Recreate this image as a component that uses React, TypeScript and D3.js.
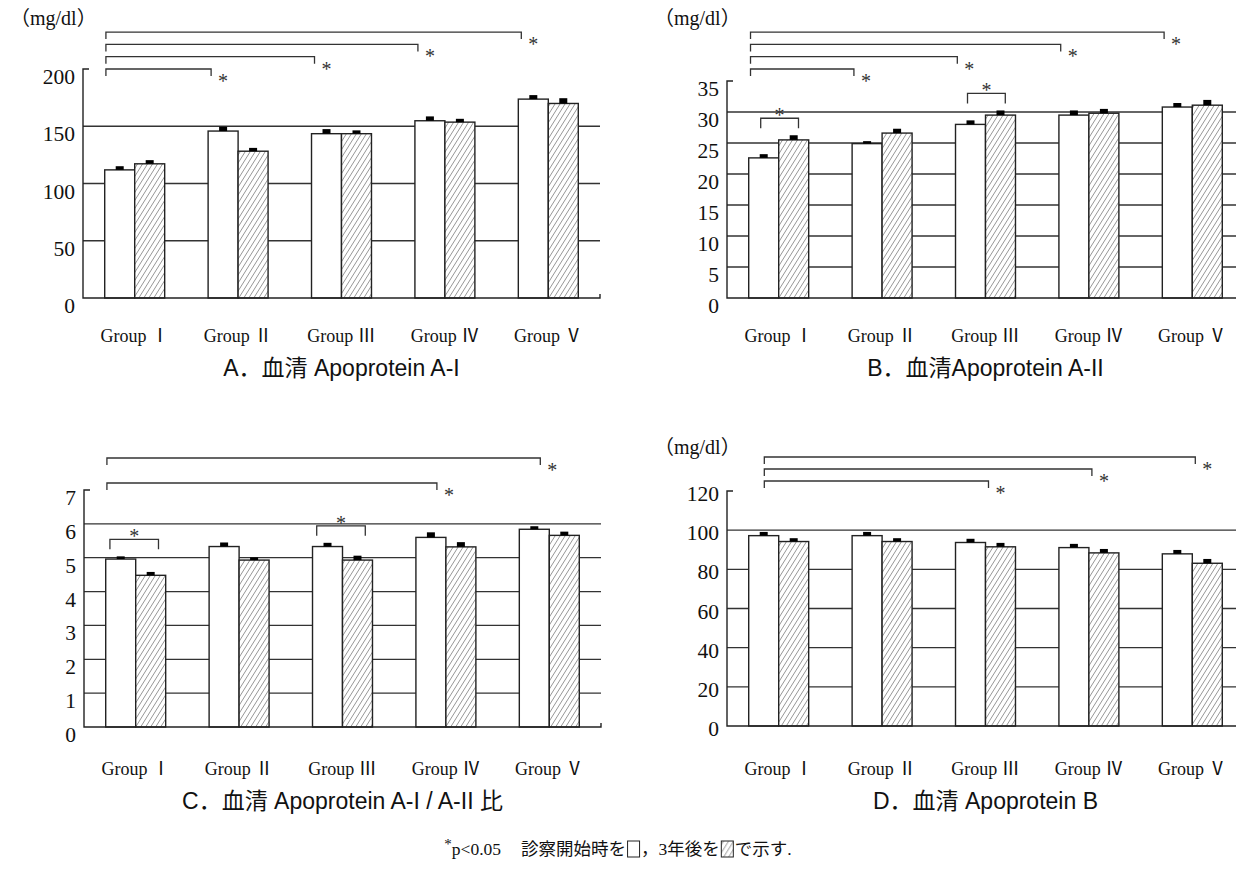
import React, { useEffect, useRef } from 'react'
import * as d3 from 'd3'

const groups = ['Group Ⅰ', 'Group Ⅱ', 'Group Ⅲ', 'Group Ⅳ', 'Group Ⅴ']
const periods = ['start', 'after']

// A. 血清 Apoprotein A-I (mg/dl)
const apoA1Start = [111.9, 145.8, 143.5, 154.8, 173.7]
const apoA1After = [117.2, 128.2, 143.5, 153.6, 169.9]
const apoA1StartSE = [3.2, 3.8, 4, 3.8, 3.5]
const apoA1AfterSE = [3.2, 2.9, 2.9, 2.9, 4.6]
const apoA1Ticks = [0, 50, 100, 150, 200]
const apoA1Sig = [[0, 1], [0, 2], [0, 3], [0, 4]]
const apoA1SigIn: number[] = []

// B. 血清 Apoprotein A-II (mg/dl)
const apoA2Start = [22.6, 24.9, 28.0, 29.5, 30.8]
const apoA2After = [25.5, 26.6, 29.5, 29.8, 31.1]
const apoA2StartSE = [0.6, 0.4, 0.65, 0.75, 0.65]
const apoA2AfterSE = [0.75, 0.7, 0.75, 0.7, 0.85]
const apoA2Ticks = [0, 5, 10, 15, 20, 25, 30, 35]
const apoA2Sig = [[0, 1], [0, 2], [0, 3], [0, 4]]
const apoA2SigIn = [0, 2]

// C. A-I / A-II 比
const ratioStart = [4.96, 5.33, 5.33, 5.6, 5.84]
const ratioAfter = [4.48, 4.93, 4.93, 5.32, 5.66]
const ratioStartSE = [0.08, 0.12, 0.11, 0.15, 0.09]
const ratioAfterSE = [0.1, 0.08, 0.13, 0.14, 0.11]
const ratioTicks = [0, 1, 2, 3, 4, 5, 6, 7]
const ratioSig = [[0, 3], [0, 4]]
const ratioSigIn = [0, 2]

// D. 血清 Apoprotein B (mg/dl)
const apoBStart = [97.2, 97.2, 93.7, 91.1, 87.9]
const apoBAfter = [94.2, 94.2, 91.5, 88.4, 83.1]
const apoBStartSE = [1.9, 1.9, 1.9, 1.9, 2]
const apoBAfterSE = [1.7, 1.7, 2, 2, 2.2]
const apoBTicks = [0, 20, 40, 60, 80, 100, 120]
const apoBSig = [[0, 2], [0, 3], [0, 4]]
const apoBSigIn: number[] = []

const panels = [
  { title: 'A．血清 Apoprotein A-I', unit: true, start: apoA1Start, after: apoA1After, startSE: apoA1StartSE, afterSE: apoA1AfterSE,
    ticks: apoA1Ticks, sig: apoA1Sig, sigIn: apoA1SigIn,
    left: 83, right: 600, bottom: 298, top: 69, tickDy: 15, unitY: 18, labelY: 342, titleY: 376,
    brBase: 0, brGap: 12.3, brStart: 0.02, brEnd: 0.05, inStart: 0.2, inEnd: 0.83 },
  { title: 'B．血清Apoprotein A-II', unit: true, start: apoA2Start, after: apoA2After, startSE: apoA2StartSE, afterSE: apoA2AfterSE,
    ticks: apoA2Ticks, sig: apoA2Sig, sigIn: apoA2SigIn,
    left: 727, right: 1244, bottom: 298, top: 81, tickDy: 15, unitY: 18, labelY: 342, titleY: 376,
    brBase: 12, brGap: 12.3, brStart: 0.03, brEnd: 0.03, inStart: 0.2, inEnd: 0.83 },
  { title: 'C．血清 Apoprotein A-I / A-II 比', unit: false, start: ratioStart, after: ratioAfter, startSE: ratioStartSE, afterSE: ratioAfterSE,
    ticks: ratioTicks, sig: ratioSig, sigIn: ratioSigIn,
    left: 84, right: 601, bottom: 727, top: 490, tickDy: 15, unitY: 0, labelY: 775, titleY: 809,
    brBase: 7, brGap: 25, brStart: 0.02, brEnd: 0.35, inStart: 0.07, inEnd: 0.88 },
  { title: 'D．血清 Apoprotein B', unit: true, start: apoBStart, after: apoBAfter, startSE: apoBStartSE, afterSE: apoBAfterSE,
    ticks: apoBTicks, sig: apoBSig, sigIn: apoBSigIn,
    left: 727, right: 1244, bottom: 726, top: 491, tickDy: 10, unitY: 447, labelY: 775, titleY: 809,
    brBase: 10, brGap: 12, brStart: 0.26, brEnd: 0.55, inStart: 0.2, inEnd: 0.83 },
]

const serif = '"Liberation Serif", "Noto Sans CJK JP", serif'
const sans = '"Liberation Sans", "Noto Sans CJK JP", sans-serif'
const ink = '#222'

const App = () => {
  const svgRef = useRef(null)

  useEffect(() => {
    document.body.style.margin = '0'
    const svg = d3.select(svgRef.current)
    svg.selectAll('*').remove()

    const pat = svg.append('defs').append('pattern')
      .attr('id', 'hatch').attr('patternUnits', 'userSpaceOnUse')
      .attr('width', 5).attr('height', 8)
    pat.append('rect').attr('width', 5).attr('height', 8).attr('fill', '#fff')
    pat.append('path').attr('d', 'M-5,8 L0,0 M0,8 L5,0 M5,8 L10,0')
      .attr('stroke', '#8a8a8a').attr('stroke-width', 0.9)

    panels.forEach(p => {
      const g = svg.append('g')
      const x0 = d3.scaleBand().domain(groups).range([p.left, p.right]).paddingInner(0.42).paddingOuter(0.21)
      const bw = x0.bandwidth()
      const x1 = d3.scaleBand().domain(periods).range([0, bw])
      const yMax = p.ticks[p.ticks.length - 1]
      const y = d3.scaleLinear().domain([0, yMax]).range([p.bottom, p.top])

      // gridlines
      g.selectAll('line.grid').data(p.ticks.slice(1, -1)).join('line')
        .attr('x1', p.left).attr('x2', p.right)
        .attr('y1', d => y(d)).attr('y2', d => y(d))
        .attr('stroke', '#333').attr('stroke-width', 1.3)

      const rows = groups.flatMap((name, i) => [
        { g: name, period: 'start', v: p.start[i], se: p.startSE[i] },
        { g: name, period: 'after', v: p.after[i], se: p.afterSE[i] },
      ])

      // bars
      g.selectAll('rect.bar').data(rows).join('rect')
        .attr('x', d => x0(d.g) + x1(d.period))
        .attr('y', d => y(d.v))
        .attr('width', x1.bandwidth())
        .attr('height', d => y(0) - y(d.v))
        .attr('fill', d => d.period === 'start' ? '#fff' : 'url(#hatch)')
        .attr('stroke', ink).attr('stroke-width', 1.4)

      // SE marks
      g.selectAll('rect.err').data(rows).join('rect')
        .attr('x', d => x0(d.g) + x1(d.period) + x1.bandwidth() / 2 - 4)
        .attr('y', d => y(d.v + d.se))
        .attr('width', 8)
        .attr('height', d => y(d.v) - y(d.v + d.se))
        .attr('fill', '#000')

      // axes
      g.append('path')
        .attr('d', `M${p.left + 6},${y(yMax)} H${p.left} V${y(0)} H${p.right} V${y(0) - 4}`)
        .attr('fill', 'none').attr('stroke', ink).attr('stroke-width', 1.4)

      g.selectAll('text.tick').data(p.ticks).join('text')
        .attr('x', p.left - 8).attr('y', d => y(d) + p.tickDy)
        .attr('text-anchor', 'end')
        .attr('font-family', serif).attr('font-size', 21.5).attr('fill', '#111')
        .text(d => d)

      g.selectAll('text.grp').data(groups).join('text')
        .attr('x', d => x0(d) + bw / 2).attr('y', p.labelY)
        .attr('text-anchor', 'middle')
        .attr('font-family', serif).attr('font-size', 18).attr('fill', '#111')
        .text(d => d)

      if (p.unit) {
        g.append('text')
          .attr('x', p.left - 73).attr('y', p.unitY + 7)
          .attr('text-anchor', 'start')
          .attr('font-family', serif).attr('font-size', 20).attr('fill', '#111')
          .text('（mg/dl）')
      }

      g.append('text')
        .attr('x', (p.left + p.right) / 2).attr('y', p.titleY)
        .attr('text-anchor', 'middle')
        .attr('font-family', sans).attr('font-size', 23).attr('fill', '#111')
        .text(p.title)

      // significance between groups
      p.sig.forEach(([a, b], k) => {
        const ly = y(yMax) - p.brBase - k * p.brGap
        const xs = x0(groups[a]) + p.brStart * bw
        const xe = x0(groups[b]) + p.brEnd * bw
        g.append('path')
          .attr('d', `M${xs},${ly + 7} V${ly} H${xe} V${ly + 7}`)
          .attr('fill', 'none').attr('stroke', '#333').attr('stroke-width', 1.3)
        g.append('text')
          .attr('x', xe + 12).attr('y', ly + 9 + 10)
          .attr('text-anchor', 'middle')
          .attr('font-family', serif).attr('font-size', 20).attr('fill', '#333')
          .text('*')
      })

      // significance within group
      p.sigIn.forEach(i => {
        const top = Math.min(y(p.start[i] + p.startSE[i]), y(p.after[i] + p.afterSE[i]))
        const ly = top - 17
        const xs = x0(groups[i]) + p.inStart * bw
        const xe = x0(groups[i]) + p.inEnd * bw
        g.append('path')
          .attr('d', `M${xs},${ly + 10} V${ly} H${xe} V${ly + 10}`)
          .attr('fill', 'none').attr('stroke', '#333').attr('stroke-width', 1.3)
        g.append('text')
          .attr('x', (xs + xe) / 2).attr('y', ly - 6 + 10)
          .attr('text-anchor', 'middle')
          .attr('font-family', serif).attr('font-size', 20).attr('fill', '#333')
          .text('*')
      })
    })

    // footnote
    const fn = svg.append('g')
    const base = 855
    let cx = 0
    const addText = (t, size = 17.5, dy = 0) => {
      const node = fn.append('text')
        .attr('x', cx).attr('y', base + dy)
        .attr('font-family', serif).attr('font-size', size).attr('fill', '#111')
        .text(t).node()
      cx += node.getComputedTextLength()
    }
    const addBox = fill => {
      fn.append('rect')
        .attr('x', cx + 1.5).attr('y', base - 14).attr('width', 12).attr('height', 16)
        .attr('fill', fill).attr('stroke', ink).attr('stroke-width', 1)
      cx += 15
    }
    addText('*', 15, -6)
    addText('p<0.05')
    cx += 20
    addText('診察開始時を')
    addBox('#fff')
    addText('，3年後を')
    addBox('url(#hatch)')
    addText('で示す.')
    fn.attr('transform', `translate(${618 - cx / 2},0)`)
  }, [])

  return (
    <svg ref={svgRef} width={1236} height={869} style={{ display: 'block', background: '#fff' }}></svg>
  )
}

export default App
